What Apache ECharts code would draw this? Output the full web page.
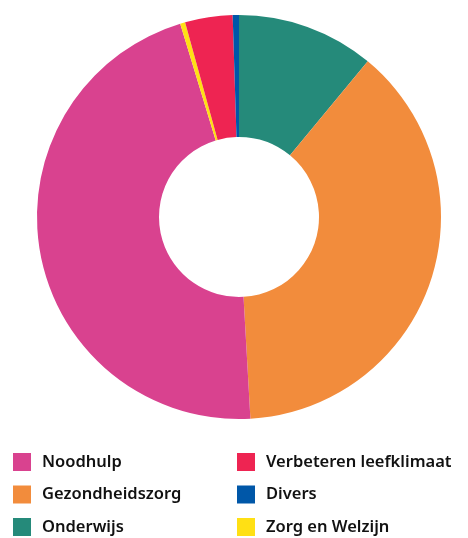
<!DOCTYPE html>
<html>
<head>
<meta charset="utf-8">
<script src="https://cdn.jsdelivr.net/npm/echarts@6/dist/echarts.min.js"></script>
<style>
  html, body { margin: 0; padding: 0; background: #fff; }
  #chart { width: 468px; height: 538px; }
</style>
</head>
<body>
<div id="chart"></div>
<script>
'use strict';
// slices in clockwise order starting at 12 o'clock
var categories = ['Onderwijs', 'Gezondheidszorg', 'Noodhulp', 'Zorg en Welzijn', 'Verbeteren leefklimaat', 'Divers'];
var shares = [11.0, 38.1, 46.2, 0.4, 3.8, 0.5];
var colors = ['#258A7A', '#F28C3C', '#D9428F', '#FFE014', '#EE2452', '#0057A8'];
var legendLeft = ['Noodhulp', 'Gezondheidszorg', 'Onderwijs'];
var legendRight = ['Verbeteren leefklimaat', 'Divers', 'Zorg en Welzijn'];

var myChart = echarts.init(document.getElementById('chart'));

var legendBase = {
    orient: 'vertical',
    top: 453,
    itemWidth: 18,
    itemHeight: 18,
    itemGap: 14.5,
    icon: 'rect',
    selectedMode: false,
    textStyle: {
        fontFamily: 'Noto Sans',
        fontSize: 16.5,
        fontWeight: 600,
        color: '#111',
        padding: [0, 0, 0, 6]
    },
    padding: 0
};

var option = {
    animation: false,
    color: colors,
    legend: [
        Object.assign({}, legendBase, { left: 13, data: legendLeft }),
        Object.assign({}, legendBase, { left: 237, data: legendRight })
    ],
    series: [{
        type: 'pie',
        center: [239, 217],
        radius: [80, 202],
        startAngle: 90,
        clockwise: true,
        label: { show: false },
        labelLine: { show: false },
        emphasis: { disabled: true },
        data: categories.map(function (name, i) {
            return { name: name, value: shares[i] };
        })
    }]
};

myChart.setOption(option);
</script>
</body>
</html>
